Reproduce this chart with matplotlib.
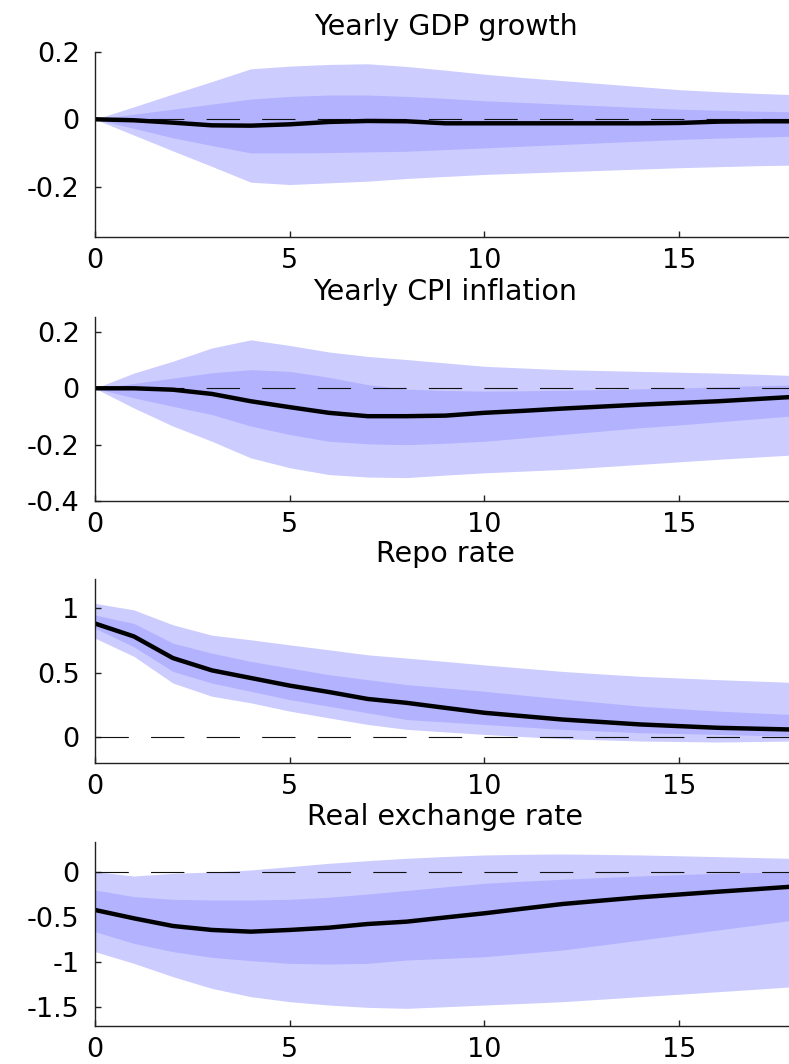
"""Impulse responses with fan bands (median + two credible bands), four panels."""

import matplotlib

matplotlib.use("Agg")
import matplotlib.pyplot as plt
from matplotlib.ticker import FixedLocator, FuncFormatter

plt.rcParams["font.family"] = ["DejaVu Sans"]
plt.rcParams["axes.unicode_minus"] = False

HORIZON = list(range(19))
TITLES = ["Yearly GDP growth", "Yearly CPI inflation", "Repo rate", "Real exchange rate"]

# Yearly GDP growth
gdp_outer_hi = [0, 0.037, 0.075, 0.112, 0.150, 0.158, 0.163, 0.165, 0.157, 0.146,
                0.134, 0.124, 0.115, 0.106, 0.097, 0.088, 0.082, 0.077, 0.073]
gdp_inner_hi = [0, 0.015, 0.030, 0.045, 0.060, 0.068, 0.072, 0.072, 0.068, 0.062,
                0.055, 0.050, 0.045, 0.040, 0.035, 0.030, 0.027, 0.024, 0.022]
gdp_median = [0, -0.003, -0.010, -0.018, -0.019, -0.015, -0.008, -0.005, -0.006, -0.012,
              -0.012, -0.012, -0.012, -0.012, -0.012, -0.011, -0.007, -0.006, -0.006]
gdp_inner_lo = [0, -0.027, -0.055, -0.078, -0.100, -0.100, -0.099, -0.097, -0.095, -0.090,
                -0.085, -0.080, -0.075, -0.070, -0.065, -0.060, -0.056, -0.053, -0.050]
gdp_outer_lo = [0, -0.047, -0.094, -0.140, -0.187, -0.194, -0.189, -0.184, -0.176, -0.170,
                -0.164, -0.160, -0.156, -0.152, -0.148, -0.144, -0.141, -0.138, -0.136]

# Yearly CPI inflation
cpi_outer_hi = [0, 0.054, 0.096, 0.143, 0.172, 0.152, 0.129, 0.113, 0.102, 0.090,
                0.078, 0.072, 0.066, 0.063, 0.060, 0.057, 0.054, 0.050, 0.045]
cpi_inner_hi = [0, 0.017, 0.036, 0.055, 0.066, 0.060, 0.039, 0.013, -0.003, -0.008,
                -0.010, -0.009, -0.007, -0.005, -0.002, 0.001, 0.005, 0.009, 0.012]
cpi_median = [0, 0.0, -0.005, -0.020, -0.046, -0.067, -0.087, -0.099, -0.099, -0.097,
              -0.087, -0.080, -0.072, -0.065, -0.058, -0.052, -0.046, -0.038, -0.030]
cpi_inner_lo = [0, -0.034, -0.064, -0.093, -0.134, -0.164, -0.188, -0.197, -0.200, -0.195,
                -0.188, -0.176, -0.164, -0.152, -0.140, -0.130, -0.119, -0.108, -0.097]
cpi_outer_lo = [0, -0.070, -0.134, -0.188, -0.247, -0.282, -0.306, -0.315, -0.317, -0.308,
                -0.300, -0.294, -0.288, -0.279, -0.270, -0.261, -0.252, -0.244, -0.236]

# Repo rate
repo_outer_hi = [1.036, 0.985, 0.870, 0.790, 0.754, 0.715, 0.677, 0.638, 0.613, 0.587,
                 0.560, 0.535, 0.510, 0.490, 0.472, 0.459, 0.446, 0.435, 0.424]
repo_inner_hi = [0.946, 0.880, 0.728, 0.651, 0.587, 0.536, 0.485, 0.446, 0.408, 0.382,
                 0.356, 0.326, 0.297, 0.269, 0.241, 0.222, 0.203, 0.189, 0.175]
repo_median = [0.880, 0.780, 0.613, 0.518, 0.459, 0.400, 0.351, 0.297, 0.267, 0.228,
               0.190, 0.164, 0.138, 0.119, 0.100, 0.087, 0.074, 0.067, 0.060]
repo_inner_lo = [0.844, 0.700, 0.510, 0.420, 0.356, 0.292, 0.241, 0.190, 0.138, 0.119,
                 0.100, 0.081, 0.062, 0.049, 0.036, 0.030, 0.023, 0.016, 0.010]
repo_outer_lo = [0.767, 0.626, 0.420, 0.318, 0.267, 0.203, 0.151, 0.100, 0.062, 0.042,
                 0.023, 0.006, -0.010, -0.019, -0.028, -0.032, -0.036, -0.032, -0.028]

# Real exchange rate
rer_outer_hi = [0.004, -0.045, -0.015, 0.000, 0.022, 0.059, 0.096, 0.126, 0.152, 0.172,
                0.189, 0.196, 0.200, 0.195, 0.189, 0.180, 0.170, 0.160, 0.150]
rer_inner_hi = [-0.200, -0.274, -0.304, -0.311, -0.311, -0.304, -0.281, -0.245, -0.205, -0.165,
                -0.126, -0.102, -0.081, -0.062, -0.044, -0.029, -0.015, -0.005, 0.004]
rer_median = [-0.422, -0.515, -0.600, -0.644, -0.663, -0.644, -0.619, -0.578, -0.552, -0.505,
              -0.459, -0.407, -0.356, -0.318, -0.281, -0.250, -0.219, -0.190, -0.160]
rer_inner_lo = [-0.663, -0.793, -0.885, -0.948, -0.985, -1.015, -1.022, -1.015, -0.978, -0.960,
                -0.941, -0.904, -0.867, -0.812, -0.756, -0.700, -0.644, -0.588, -0.530]
rer_outer_lo = [-0.885, -1.015, -1.163, -1.293, -1.385, -1.441, -1.478, -1.504, -1.515, -1.497,
                -1.478, -1.460, -1.441, -1.413, -1.385, -1.358, -1.330, -1.302, -1.272]

Y_TICKS = [[-0.2, 0, 0.2], [-0.4, -0.2, 0, 0.2], [0, 0.5, 1], [-1.5, -1, -0.5, 0]]
Y_LIMS = [(-0.35, 0.2), (-0.4, 0.253), (-0.198, 1.224), (-1.711, 0.333)]
X_TICKS = [0, 5, 10, 15]

SERIES = [
    (gdp_outer_lo, gdp_inner_lo, gdp_median, gdp_inner_hi, gdp_outer_hi),
    (cpi_outer_lo, cpi_inner_lo, cpi_median, cpi_inner_hi, cpi_outer_hi),
    (repo_outer_lo, repo_inner_lo, repo_median, repo_inner_hi, repo_outer_hi),
    (rer_outer_lo, rer_inner_lo, rer_median, rer_inner_hi, rer_outer_hi),
]

OUTER_FILL = "#CCCCFF"
INNER_FILL = "#B2B2FF"

W, H = 789, 1064
# axes rectangles in pixels: (top, bottom)
PANEL_PX = [(52, 237), (317, 501), (579, 763), (842, 1026)]
LEFT_PX, RIGHT_PX = 95, 796


def _fmt(v, _pos):
    return f"{v:g}"


def main():
    fig = plt.figure(figsize=(W / 100, H / 100), dpi=100)

    for i, (top, bot) in enumerate(PANEL_PX):
        rect = [LEFT_PX / W, 1 - bot / H, (RIGHT_PX - LEFT_PX) / W, (bot - top) / H]
        ax = fig.add_axes(rect)
        o_lo, i_lo, med, i_hi, o_hi = SERIES[i]

        ax.fill_between(HORIZON, o_lo, o_hi, color=OUTER_FILL, lw=0, zorder=1)
        ax.fill_between(HORIZON, i_lo, i_hi, color=INNER_FILL, lw=0, zorder=2)
        ax.axhline(0, color="#111111", lw=0.8, dashes=(30, 20), zorder=3)
        ax.plot(HORIZON, med, color="black", lw=3.2, zorder=4, solid_joinstyle="miter")

        ax.set_xlim(0, 18)
        ax.set_ylim(*Y_LIMS[i])
        ax.xaxis.set_major_locator(FixedLocator(X_TICKS))
        ax.yaxis.set_major_locator(FixedLocator(Y_TICKS[i]))
        ax.xaxis.set_major_formatter(FuncFormatter(_fmt))
        ax.yaxis.set_major_formatter(FuncFormatter(_fmt))

        for side in ("top", "right"):
            ax.spines[side].set_visible(False)
        for side in ("left", "bottom"):
            ax.spines[side].set_linewidth(1.0)
            ax.spines[side].set_color("#222222")
            ax.spines[side].set_zorder(5)

        ax.tick_params(axis="both", direction="in", length=4, width=1.0,
                       colors="#222222", labelcolor="black", labelsize=19.5)
        ax.tick_params(axis="x", pad=8)
        ax.tick_params(axis="y", pad=11)

        ax.set_title(TITLES[i], fontsize=20.5, pad=12)

    fig.savefig("out.png", dpi=100)
    plt.close(fig)


if __name__ == "__main__":
    main()
